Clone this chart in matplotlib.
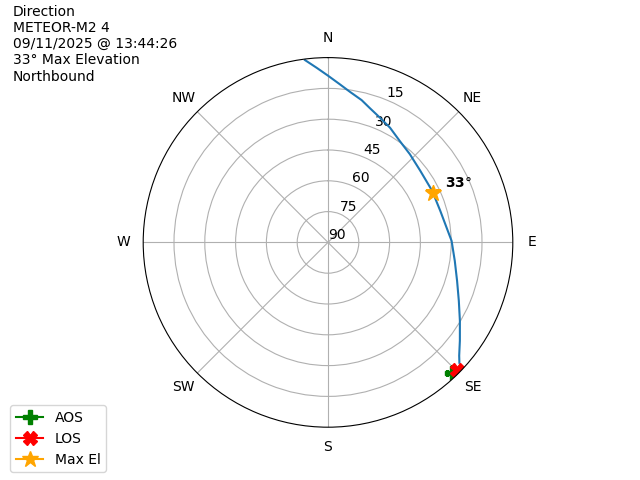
import numpy as np
import matplotlib
matplotlib.use("Agg")
import matplotlib.pyplot as plt

# pass track (azimuth deg, elevation deg)
track_az = [352.8, 356.3, 0.1, 4.3, 8.3, 13.3, 17.3, 22.6, 28.4, 35.3, 42.9,
            52.1, 63.6, 74.3, 82.9, 89.3, 98.3, 106.6, 114.1, 120.7, 126.7,
            130.8, 132.5]
track_el = [0.5, 4.8, 8.9, 12.8, 15.9, 18.8, 21.5, 24.2, 26.5, 29.5, 31.4,
            33.1, 33.4, 33.2, 31.8, 29.8, 27.6, 24.4, 20.2, 15.3, 9.9,
            5.6, 3.2]

aos_az, aos_el = 136.6, 2.2
los_az, los_el = 134.8, 1.8
max_az, max_el = 64.6, 33.4

dir_labels = ["N", "NE", "E", "SE", "S", "SW", "W", "NW"]
el_ticks = [90, 75, 60, 45, 30, 15]

info = ["Direction", "METEOR-M2 4", "09/11/2025 @ 13:44:26",
        "33\u00b0 Max Elevation", "Northbound"]

fig = plt.figure(figsize=(6.4, 4.8), dpi=100)
ax = fig.add_subplot(111, projection="polar")
ax.set_theta_zero_location("N")
ax.set_theta_direction(-1)

r = 90 - np.array(track_el)
ax.plot(np.radians(track_az), r)
ax.plot(np.radians(aos_az), 90 - aos_el, marker="P", color="green",
        markersize=10, label="AOS")
ax.plot(np.radians(los_az), 90 - los_el, marker="X", color="red",
        markersize=10, label="LOS")
ax.plot(np.radians(max_az), 90 - max_el, marker="*", color="orange",
        markersize=12, label="Max El")
ax.annotate(r"$\bf{%d}$°" % max_el, xy=(np.radians(max_az), 90 - max_el),
            xytext=(9, 4), textcoords="offset points")

ax.set_ylim(0, 90)
ax.set_yticks([90 - e for e in el_ticks])
ax.set_yticklabels([str(e) for e in el_ticks])
ax.set_thetagrids(np.arange(0, 360, 45), dir_labels)

fig.text(0.02, 0.99, "\n".join(info), ha="left", va="top", fontsize=10)
fig.legend(loc="lower left", bbox_to_anchor=(0.005, 0.002))

fig.savefig("out.png")
